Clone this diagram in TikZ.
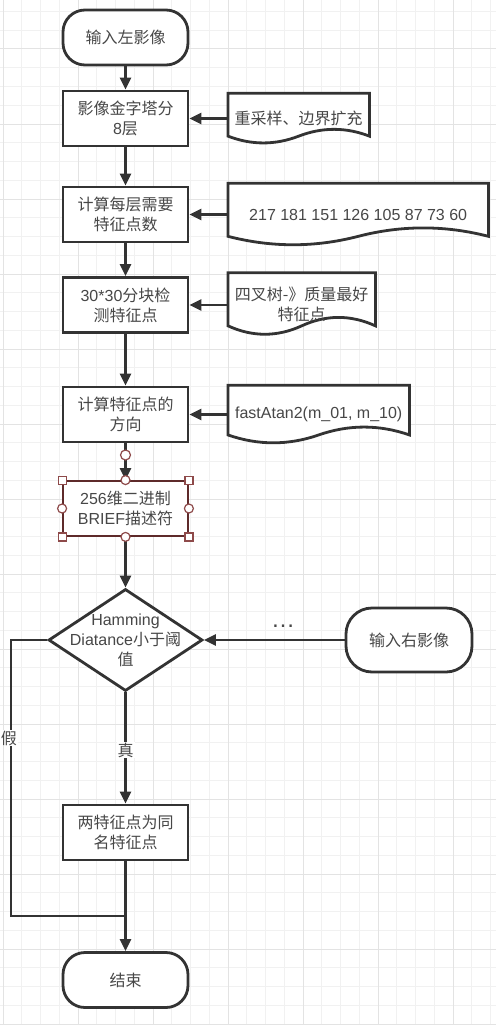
\documentclass[tikz,border=0pt]{standalone}
\usepackage{fontspec}
\setmainfont{Liberation Sans}
\newfontfamily\zh{Noto Sans CJK SC}
\usetikzlibrary{shapes.geometric,arrows.meta,calc,positioning}
\definecolor{lc}{HTML}{333333}
\definecolor{tc}{HTML}{474747}
\definecolor{sel}{HTML}{5E2A2A}
\definecolor{hd}{HTML}{8E4A4A}
\definecolor{gmin}{HTML}{F1F1F1}
\definecolor{gmaj}{HTML}{E3E3E3}
\pgfdeclarelayer{back}
\pgfsetlayers{back,main}
\tikzset{
    LN/.style ={draw=lc, line width=2.8pt},
    AR1/.style ={LN, -{Triangle[length=12pt, width=11pt]}},
    TX1/.style ={text=tc, align=center, font=\fontsize{16}{20}\selectfont},
    RA1/.style ={rectangle, minimum width=125pt, minimum height=55pt, draw=lc, line width=2.8pt, fill=white, TX1},
    RA2/.style ={rectangle, minimum width=125pt, minimum height=55pt, draw=sel, line width=1.8pt, fill=white, TX1},
    RR1/.style ={rectangle, rounded corners=22pt, minimum width=125pt, minimum height=55pt, draw=lc, line width=2.8pt, fill=white, TX1},
    DC1/.style ={rectangle, draw=none, anchor=west, TX1},
    DM1/.style ={diamond, minimum width=154pt, minimum height=102pt, inner sep=0pt, draw=lc, line width=2.8pt, fill=white},
    LB1/.style ={fill=white, inner sep=1pt, TX1},
    HD1/.style ={draw=hd, fill=white, line width=1.2pt},
    GR1/.style ={draw=gmin, line width=1pt},
    GR2/.style ={draw=gmaj, line width=1pt}
}
\newcommand{\docline}[1]{%
    \draw[LN, fill=white] let \p1=(#1.north west), \p2=(#1.south east),
        \n1={0.3*(\y1-\y2)}, \n2={\x2-\x1} in
        (\p1) -- (\x2,\y1) -- (\x2,\y2+0.5*\n1)
        .. controls (\x2-\n2/6,\y2+1.1*\n1) and (\x1+2*\n2/3,\y2+1.1*\n1) .. (\x1+0.5*\n2,\y2+0.5*\n1)
        .. controls (\x1+\n2/3,\y2-0.1*\n1) and (\x1+\n2/6,\y2-0.1*\n1) .. (\x1,\y2+0.5*\n1) -- cycle;}

\begin{document}
\begin{tikzpicture}[x=1pt, y=-1pt]
        \useasboundingbox (0,0) rectangle (496,1025);
        \begin{pgfonlayer}{back}
        \fill[white] (0,0) rectangle (496,1025);
        \foreach \k in {0,...,26}
            \draw[GR1] (3+18.75*\k,0) -- (3+18.75*\k,1025);
        \foreach \k in {0,...,54}
            \draw[GR1] (0,11.5+18.75*\k) -- (496,11.5+18.75*\k);
        \foreach \k in {0,...,6}
            \draw[GR2] (3+75*\k,0) -- (3+75*\k,1025);
        \foreach \k in {0,...,13}
            \draw[GR2] (0,49+75*\k) -- (496,49+75*\k);
        \end{pgfonlayer}

        \node[RR1] (start) at (125.5,37.5) {{\zh 输入左影像}};
        \node[RA1] (b1) at (125.5,118.5) {{\zh 影像金字塔分}\\8{\zh 层}};
        \node[RA1] (b2) at (125.5,214.5) {{\zh 计算每层需要}\\{\zh 特征点数}};
        \node[RA1] (b3) at (125.5,305) {30*30{\zh 分块检}\\{\zh 测特征点}};
        \node[RA1] (b4) at (125.5,414.5) {{\zh 计算特征点的}\\{\zh 方向}};
        \node[RA2] (b5) at (125.5,508.5) {256{\zh 维二进制}\\BRIEF{\zh 描述符}};
        \node[DM1] (dec) at (125.5,640) {};
        \node[TX1] (dect) at (dec) {Hamming\\Diatance{\zh 小于阈}\\{\zh 值}};
        \node[RR1, minimum width=126pt, minimum height=64pt, rounded corners=26pt] (rin) at (409,640) {{\zh 输入右影像}};
        \node[RA1] (b6) at (125.5,832.5) {{\zh 两特征点为同}\\{\zh 名特征点}};
        \node[RR1] (end) at (125.5,980) {{\zh 结束}};

        \node[DC1, minimum width=141pt, minimum height=50pt] (d1) at (228,118.5) {{\zh 重采样、边界扩充}};
        \node[DC1, minimum width=260pt, minimum height=62pt] (d2) at (228,214.5) {217 181 151 126 105 87 73 60};
        \node[DC1, minimum width=147pt, minimum height=62pt] (d3) at (228,304) {{\zh 四叉树-》质量最好}\\{\zh 特征点}};
        \node[DC1, minimum width=181pt, minimum height=58pt] (d4) at (228,414.5) {fastAtan2(m\_01, m\_10)};
        \begin{pgfonlayer}{back}
        \foreach \dn in {d1,d2,d3,d4}
            {\docline{\dn}}
        \end{pgfonlayer}

        \draw[AR1] (start) -- (b1);
        \draw[AR1] (b1) -- (b2);
        \draw[AR1] (b2) -- (b3);
        \draw[AR1] (b3) -- (b4);
        \draw[AR1] (b4) -- (b5);
        \draw[AR1] (b5) -- (dec);
        \draw[AR1] (dec) -- (b6);
        \draw[AR1] (b6) -- (end);
        \draw[AR1] (d1) -- (b1);
        \draw[AR1] (d2) -- (b2);
        \draw[AR1] (d3.west |- b3) -- (b3);
        \draw[AR1] (d4) -- (b4);
        \draw[AR1] (rin) -- (dec);
        \coordinate (jn) at (125.5,916);
        \draw[LN] (dec.west) -- (11,640) |- (jn);

        \node[TX1, font=\fontsize{24}{24}\selectfont] (dots) at (283,626) {…};
        \node[LB1] (lt) at (125.5,750) {{\zh 真}};
        \node[LB1] (lf) at (9,738) {{\zh 假}};

        \foreach \an in {north west,north east,south west,south east}
            \filldraw[HD1] ($(b5.\an)+(-4,-4)$) rectangle ++(8,8);
        \foreach \an in {north,south,west,east}
            \filldraw[HD1] (b5.\an) circle[radius=4.5pt];
        \filldraw[HD1] (125.5,455) circle[radius=5pt];
    \end{tikzpicture}
\end{document}
